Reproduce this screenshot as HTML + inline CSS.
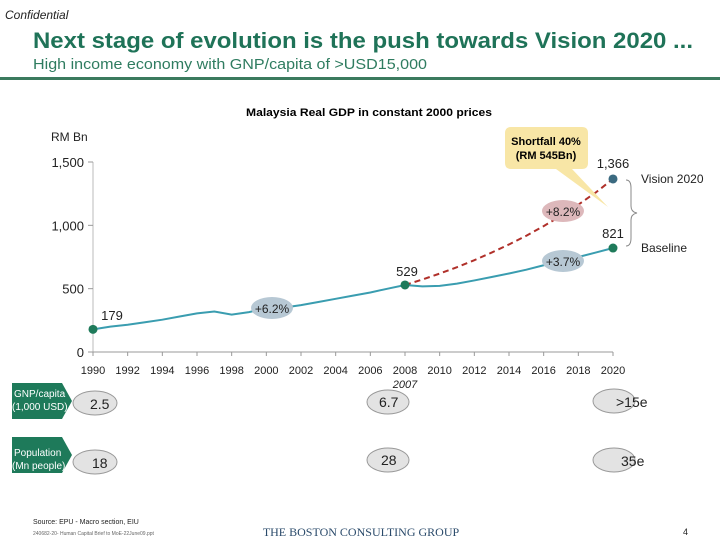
<!DOCTYPE html>
<html><head><meta charset="utf-8"><style>
body{margin:0;width:720px;height:540px;background:#fff;overflow:hidden;font-family:"Liberation Sans",sans-serif}
svg{display:block}
</style></head><body>
<svg width="720" height="540" font-family="Liberation Sans, sans-serif">
<text x="5" y="19" font-size="12" font-style="italic" fill="#222">Confidential</text>
<text x="33" y="48" font-size="22" font-weight="bold" fill="#1f7358" textLength="660" lengthAdjust="spacingAndGlyphs">Next stage of evolution is the push towards Vision 2020 ...</text>
<text x="33" y="69" font-size="15" fill="#2f7c60" textLength="394" lengthAdjust="spacingAndGlyphs">High income economy with GNP/capita of &gt;USD15,000</text>
<rect x="0" y="77" width="720" height="3" fill="#3b7a5e"/>
<text x="369" y="116" font-size="11" font-weight="bold" text-anchor="middle" fill="#000" textLength="246" lengthAdjust="spacingAndGlyphs">Malaysia Real GDP in constant 2000 prices</text>
<text x="51" y="141" font-size="12" fill="#222">RM Bn</text>
<g id="chart"></g>
<g>
<path d="M511,127 h71 q6,0 6,6 v30 q0,6 -6,6 h-10 l36,38 l-52,-38 h-45 q-6,0 -6,-6 v-30 q0,-6 6,-6z" fill="#f8e6a6"/>
<text x="546" y="145" font-size="11" font-weight="bold" text-anchor="middle">Shortfall 40%</text>
<text x="546" y="159" font-size="11" font-weight="bold" text-anchor="middle">(RM 545Bn)</text>
</g>
<path d="M626,180 q5,0 5,8 v18 q0,6 6,7 q-6,1 -6,7 v18 q0,8 -5,8" fill="none" stroke="#888"/>
<text x="641" y="183" font-size="12" fill="#222">Vision 2020</text>
<text x="641" y="252" font-size="12" fill="#222">Baseline</text>
<g>
<path d="M12,383 h50 l10,18 l-10,18 h-50z" fill="#1e7a5a"/>
<text x="14" y="397" font-size="10" fill="#fff">GNP/capita</text>
<text x="12" y="410" font-size="10" fill="#fff">(1,000 USD)</text>
<path d="M12,437 h50 l10,18 l-10,18 h-50z" fill="#1e7a5a"/>
<text x="14" y="456" font-size="10" fill="#fff">Population</text>
<text x="12" y="469" font-size="10" fill="#fff">(Mn people)</text>
<g fill="#e3e3e3" stroke="#999">
<ellipse cx="95" cy="403" rx="22" ry="12"/>
<ellipse cx="388" cy="402" rx="21" ry="12"/>
<ellipse cx="614" cy="401" rx="21" ry="12"/>
<ellipse cx="95" cy="462" rx="22" ry="12"/>
<ellipse cx="388" cy="460" rx="21" ry="12"/>
<ellipse cx="614" cy="460" rx="21" ry="12"/>
</g>
<g font-size="14" fill="#222">
<text x="90" y="409">2.5</text><text x="379" y="407">6.7</text><text x="616" y="407">&gt;15e</text>
<text x="92" y="468">18</text><text x="381" y="465">28</text><text x="621" y="466">35e</text>
</g>
</g>
<text x="33" y="524" font-size="7" fill="#222">Source: EPU - Macro section, EIU</text>
<text x="33" y="535" font-size="5" fill="#666">240682-20- Human Capital Brief to MoE-22June09.ppt</text>
<text x="361" y="536" font-size="12" font-family="Liberation Serif, serif" text-anchor="middle" fill="#2a4a6a">THE BOSTON CONSULTING GROUP</text>
<text x="683" y="535" font-size="9" fill="#222">4</text>
</svg>
<script>
const years=[1990,1991,1992,1993,1994,1995,1996,1997,1998,1999,2000,2001,2002,2003,2004,2005,2006,2007,2008,2009,2010,2011,2012,2013,2014,2015,2016,2017,2018,2019,2020];
const baseline=[179,200,215,235,255,280,305,320,295,315,345,350,370,395,420,445,470,500,529,518,522,540,565,592,620,650,685,715,750,785,821];
const visionYears=[2008,2009,2010,2011,2012,2013,2014,2015,2016,2017,2018,2019,2020];
const vision=[529,572,619,670,725,785,849,918,994,1075,1163,1259,1366];
const yTicks=[0,500,1000,1500];
const xTickLabels=[1990,1992,1994,1996,1998,2000,2002,2004,2006,2008,2010,2012,2014,2016,2018,2020];
const NS="http://www.w3.org/2000/svg";
const g=document.getElementById('chart');
const X=y=>93+(y-1990)*(613-93)/30;
const Y=v=>352-v*(352-162)/1500;
function mk(t,a){const e=document.createElementNS(NS,t);for(const k in a)e.setAttribute(k,a[k]);g.appendChild(e);return e;}
let e=mk('line',{x1:93,y1:162,x2:93,y2:352,stroke:'#bbb'});


e=mk('line',{x1:93,y1:352,x2:613,y2:352,stroke:'#999'});


yTicks.forEach(v=>{
 const l=mk('line',{x1:88,x2:93,y1:Y(v),y2:Y(v),stroke:'#999'});
 
 
 const t=mk('text',{x:84,y:Y(v)+5,'font-size':13,'text-anchor':'end',fill:'#222'});
 t.textContent=v.toLocaleString('en-US');
 
 
});
xTickLabels.forEach(v=>{
 const l=mk('line',{x1:X(v),x2:X(v),y1:352,y2:356,stroke:'#999'});
 
 
 const t=mk('text',{x:X(v),y:374,'font-size':11,'text-anchor':'middle',fill:'#222'});
 t.textContent=v;
 
 
});
e=mk('text',{x:X(2008),y:388,'font-size':11,'text-anchor':'middle','font-style':'italic',fill:'#222'});
e.textContent='2007';


e=mk('polyline',{points:years.map((y,i)=>X(y)+','+Y(baseline[i])).join(' '),fill:'none',stroke:'#3a9db0','stroke-width':2});


e=mk('polyline',{points:visionYears.map((y,i)=>X(y)+','+Y(vision[i])).join(' '),fill:'none',stroke:'#b0302a','stroke-width':2,'stroke-dasharray':'6,4'});


const bub=(x,y,c,t,n)=>{const el=mk('ellipse',{cx:x,cy:y,rx:21,ry:11,fill:c});
 const tx=mk('text',{x:x,y:y+5,'font-size':12,'text-anchor':'middle',fill:'#222'});tx.textContent=t;};
bub(272,308,'#b7c8d4','+6.2%','cagr-bubble-1990-2008');
bub(563,211,'#ddb8bb','+8.2%','cagr-bubble-vision');
bub(563,261,'#b7c8d4','+3.7%','cagr-bubble-baseline');
const pt=(yr,v,c,lbl,lx,ly,n)=>{const el=mk('circle',{cx:X(yr),cy:Y(v),r:4.5,fill:c});
 const t=mk('text',{x:lx,y:ly,'font-size':13,'text-anchor':'middle',fill:'#222'});t.textContent=lbl;};
pt(1990,baseline[0],'#1e7a5a',baseline[0],112,320,'point-1990');
pt(2008,baseline[18],'#1e7a5a',baseline[18],407,276,'point-2008');
pt(2020,baseline[30],'#1e7a5a',baseline[30],613,238,'point-2020-baseline');
pt(2020,vision[12],'#3b6a80',vision[12].toLocaleString('en-US'),613,168,'point-2020-vision');
</script>
</body></html>
